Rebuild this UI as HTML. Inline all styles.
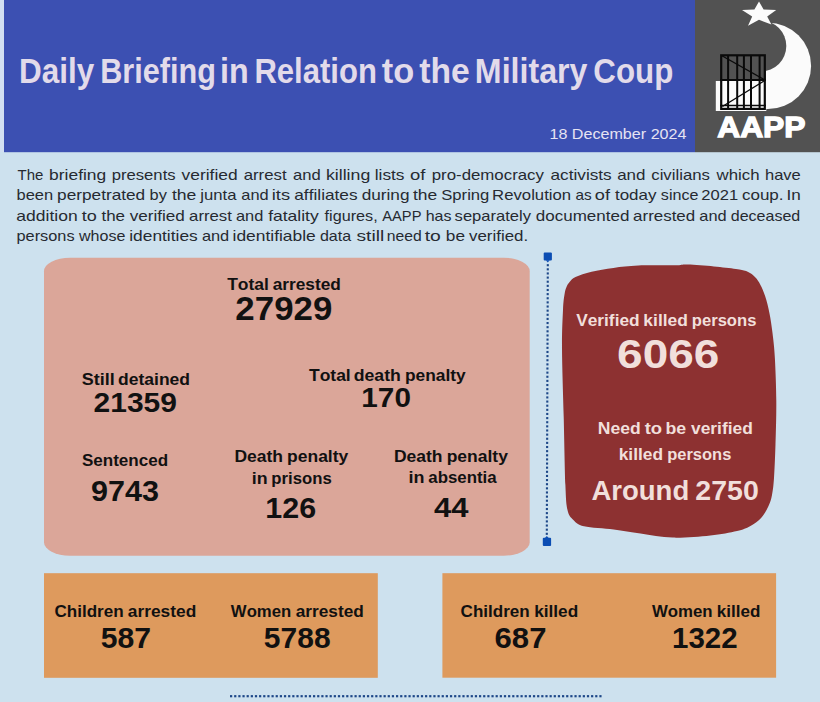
<!DOCTYPE html>
<html><head><meta charset="utf-8"><style>
html,body{margin:0;padding:0;}
body{width:820px;height:702px;overflow:hidden;background:#cde1ee;position:relative;font-family:"Liberation Sans",sans-serif;}
svg{position:absolute;left:0;top:0;}
text{font-family:"Liberation Sans",sans-serif;font-kerning:none;font-variant-ligatures:none;}
</style></head><body>
<svg width="820" height="702" viewBox="0 0 820 702">
<rect x="0" y="0" width="820" height="702" fill="#cde1ee"/>
<rect x="0" y="0" width="4" height="152" fill="#d2dff2"/>
<rect x="4" y="0" width="691" height="152.2" fill="#3c50b2"/>
<rect x="695" y="0" width="125" height="152.2" fill="#525252"/>
<!-- logo -->
<defs><mask id="cres"><rect x="765.5" y="0" width="60" height="152" fill="#fff"/><circle cx="760.9" cy="46" r="25.4" fill="#000"/></mask></defs>
<circle cx="767.9" cy="65.9" r="43.2" fill="#fbfbfb" mask="url(#cres)"/>
<polygon points="759,1.5 763.6,9.6 776.2,10 767.2,16.4 771.4,24.6 759,19.8 748,25.8 752.2,16.6 742,10 754.4,9.6" fill="#fbfbfb"/>
<rect x="720" y="54.5" width="46" height="26.5" fill="#525252"/>
<rect x="715.8" y="81" width="50.5" height="30" fill="#fbfbfb"/>
<g fill="none" stroke="#0a0a0a">
<rect x="721.2" y="55.3" width="43.6" height="53.6" stroke-width="2.2"/>
<line x1="728.1" y1="55" x2="728.1" y2="109" stroke-width="2"/><line x1="737.2" y1="55" x2="737.2" y2="109" stroke-width="2"/><line x1="743.9" y1="55" x2="743.9" y2="109" stroke-width="2"/><line x1="751.0" y1="55" x2="751.0" y2="109" stroke-width="2"/><line x1="759.6" y1="55" x2="759.6" y2="109" stroke-width="2"/>
<line x1="720" y1="80" x2="766" y2="80" stroke-width="2"/>
<line x1="720" y1="105.5" x2="766" y2="105.5" stroke-width="1.6"/>
<line x1="721.5" y1="55.5" x2="764" y2="79.5" stroke-width="1.4"/>
<line x1="722.4" y1="106.5" x2="764" y2="81" stroke-width="1.4"/>
</g>
<!-- salmon box -->
<rect x="44" y="257.7" width="485.7" height="298" rx="26" ry="13.5" fill="#dba699"/>
<!-- dotted separator -->
<g fill="#1d4788"><rect x="546.75" y="264.15" width="2.1" height="2.1"/><rect x="546.73" y="268.28" width="2.1" height="2.1"/><rect x="546.72" y="272.41" width="2.1" height="2.1"/><rect x="546.70" y="276.55" width="2.1" height="2.1"/><rect x="546.69" y="280.68" width="2.1" height="2.1"/><rect x="546.67" y="284.81" width="2.1" height="2.1"/><rect x="546.66" y="288.94" width="2.1" height="2.1"/><rect x="546.64" y="293.08" width="2.1" height="2.1"/><rect x="546.63" y="297.21" width="2.1" height="2.1"/><rect x="546.61" y="301.34" width="2.1" height="2.1"/><rect x="546.60" y="305.47" width="2.1" height="2.1"/><rect x="546.58" y="309.61" width="2.1" height="2.1"/><rect x="546.57" y="313.74" width="2.1" height="2.1"/><rect x="546.55" y="317.87" width="2.1" height="2.1"/><rect x="546.53" y="322.00" width="2.1" height="2.1"/><rect x="546.52" y="326.13" width="2.1" height="2.1"/><rect x="546.50" y="330.27" width="2.1" height="2.1"/><rect x="546.49" y="334.40" width="2.1" height="2.1"/><rect x="546.47" y="338.53" width="2.1" height="2.1"/><rect x="546.46" y="342.66" width="2.1" height="2.1"/><rect x="546.44" y="346.80" width="2.1" height="2.1"/><rect x="546.43" y="350.93" width="2.1" height="2.1"/><rect x="546.41" y="355.06" width="2.1" height="2.1"/><rect x="546.40" y="359.19" width="2.1" height="2.1"/><rect x="546.38" y="363.33" width="2.1" height="2.1"/><rect x="546.37" y="367.46" width="2.1" height="2.1"/><rect x="546.35" y="371.59" width="2.1" height="2.1"/><rect x="546.33" y="375.72" width="2.1" height="2.1"/><rect x="546.32" y="379.85" width="2.1" height="2.1"/><rect x="546.30" y="383.99" width="2.1" height="2.1"/><rect x="546.29" y="388.12" width="2.1" height="2.1"/><rect x="546.27" y="392.25" width="2.1" height="2.1"/><rect x="546.26" y="396.38" width="2.1" height="2.1"/><rect x="546.24" y="400.52" width="2.1" height="2.1"/><rect x="546.23" y="404.65" width="2.1" height="2.1"/><rect x="546.21" y="408.78" width="2.1" height="2.1"/><rect x="546.20" y="412.91" width="2.1" height="2.1"/><rect x="546.18" y="417.05" width="2.1" height="2.1"/><rect x="546.17" y="421.18" width="2.1" height="2.1"/><rect x="546.15" y="425.31" width="2.1" height="2.1"/><rect x="546.13" y="429.44" width="2.1" height="2.1"/><rect x="546.12" y="433.57" width="2.1" height="2.1"/><rect x="546.10" y="437.71" width="2.1" height="2.1"/><rect x="546.09" y="441.84" width="2.1" height="2.1"/><rect x="546.07" y="445.97" width="2.1" height="2.1"/><rect x="546.06" y="450.10" width="2.1" height="2.1"/><rect x="546.04" y="454.24" width="2.1" height="2.1"/><rect x="546.03" y="458.37" width="2.1" height="2.1"/><rect x="546.01" y="462.50" width="2.1" height="2.1"/><rect x="546.00" y="466.63" width="2.1" height="2.1"/><rect x="545.98" y="470.77" width="2.1" height="2.1"/><rect x="545.97" y="474.90" width="2.1" height="2.1"/><rect x="545.95" y="479.03" width="2.1" height="2.1"/><rect x="545.93" y="483.16" width="2.1" height="2.1"/><rect x="545.92" y="487.29" width="2.1" height="2.1"/><rect x="545.90" y="491.43" width="2.1" height="2.1"/><rect x="545.89" y="495.56" width="2.1" height="2.1"/><rect x="545.87" y="499.69" width="2.1" height="2.1"/><rect x="545.86" y="503.82" width="2.1" height="2.1"/><rect x="545.84" y="507.96" width="2.1" height="2.1"/><rect x="545.83" y="512.09" width="2.1" height="2.1"/><rect x="545.81" y="516.22" width="2.1" height="2.1"/><rect x="545.80" y="520.35" width="2.1" height="2.1"/><rect x="545.78" y="524.49" width="2.1" height="2.1"/><rect x="545.77" y="528.62" width="2.1" height="2.1"/><rect x="545.75" y="532.75" width="2.1" height="2.1"/></g>
<rect x="543.7" y="252.4" width="8.2" height="8" rx="1" fill="#0b4db3"/>
<rect x="542.8" y="537.7" width="8.3" height="8.2" rx="1" fill="#0b4db3"/>
<polygon points="545.9,260.2 549.7,260.2 547.8,262.4" fill="#0b4db3"/>
<polygon points="544.9,537.9 548.7,537.9 546.8,535.9" fill="#0b4db3"/>
<!-- red blob -->
<path d="M564.5,294.5 C565.1,290.7 565.6,289.1 566.5,287.0 C567.4,284.9 568.1,283.7 569.6,282.0 C571.1,280.3 571.8,278.7 575.5,277.0 C579.2,275.3 585.3,273.3 591.6,271.8 C597.9,270.3 605.7,268.9 613.5,267.9 C621.3,266.8 628.1,265.9 638.4,265.5 C648.6,265.1 666.8,265.5 675.0,265.3 C683.2,265.1 681.1,264.3 687.6,264.5 C694.1,264.7 705.9,265.7 713.9,266.4 C721.9,267.1 730.5,268.1 735.9,268.9 C741.3,269.7 743.2,270.0 746.1,271.1 C749.0,272.2 751.2,273.6 753.4,275.5 C755.6,277.4 757.3,279.4 759.3,282.8 C761.2,286.2 763.4,290.9 765.1,296.0 C766.8,301.1 768.3,307.3 769.5,313.5 C770.7,319.7 771.6,325.5 772.5,333.0 C773.4,340.5 774.3,347.1 774.9,358.4 C775.5,369.7 776.2,386.8 776.3,401.0 C776.4,415.2 775.9,430.9 775.5,443.7 C775.1,456.5 774.6,469.4 774.0,478.0 C773.4,486.6 772.9,490.3 772.0,495.0 C771.1,499.7 770.2,502.5 768.4,506.3 C766.6,510.1 764.4,514.4 761.3,517.7 C758.2,521.0 754.0,524.0 750.0,526.2 C746.0,528.4 743.6,529.4 737.0,530.9 C730.4,532.4 721.0,534.3 710.3,535.4 C699.6,536.5 684.3,537.9 672.7,537.6 C661.1,537.3 650.3,534.9 640.5,533.5 C630.7,532.1 623.1,530.7 613.7,529.5 C604.3,528.3 590.7,527.9 584.0,526.3 C577.3,524.7 576.1,522.7 573.4,520.0 C570.6,517.3 568.8,515.8 567.5,510.0 C566.2,504.2 566.0,500.5 565.4,485.0 C564.8,469.5 564.3,439.6 563.7,416.8 C563.1,394.0 562.1,365.8 562.0,348.0 C561.9,330.2 562.6,318.9 563.0,310.0 C563.4,301.1 563.9,298.3 564.5,294.5Z" fill="#8d3131"/>
<!-- orange boxes -->
<rect x="44" y="573.2" width="333.8" height="104.6" fill="#de9a5d"/>
<rect x="442.4" y="573.2" width="333.7" height="104.5" fill="#de9a5d"/>
<g fill="#1d4788"><rect x="230.00" y="695.1" width="2.2" height="2.2"/><rect x="234.15" y="695.1" width="2.2" height="2.2"/><rect x="238.30" y="695.1" width="2.2" height="2.2"/><rect x="242.45" y="695.1" width="2.2" height="2.2"/><rect x="246.60" y="695.1" width="2.2" height="2.2"/><rect x="250.75" y="695.1" width="2.2" height="2.2"/><rect x="254.90" y="695.1" width="2.2" height="2.2"/><rect x="259.05" y="695.1" width="2.2" height="2.2"/><rect x="263.20" y="695.1" width="2.2" height="2.2"/><rect x="267.35" y="695.1" width="2.2" height="2.2"/><rect x="271.50" y="695.1" width="2.2" height="2.2"/><rect x="275.65" y="695.1" width="2.2" height="2.2"/><rect x="279.80" y="695.1" width="2.2" height="2.2"/><rect x="283.95" y="695.1" width="2.2" height="2.2"/><rect x="288.10" y="695.1" width="2.2" height="2.2"/><rect x="292.25" y="695.1" width="2.2" height="2.2"/><rect x="296.40" y="695.1" width="2.2" height="2.2"/><rect x="300.55" y="695.1" width="2.2" height="2.2"/><rect x="304.70" y="695.1" width="2.2" height="2.2"/><rect x="308.85" y="695.1" width="2.2" height="2.2"/><rect x="313.00" y="695.1" width="2.2" height="2.2"/><rect x="317.15" y="695.1" width="2.2" height="2.2"/><rect x="321.30" y="695.1" width="2.2" height="2.2"/><rect x="325.45" y="695.1" width="2.2" height="2.2"/><rect x="329.60" y="695.1" width="2.2" height="2.2"/><rect x="333.75" y="695.1" width="2.2" height="2.2"/><rect x="337.90" y="695.1" width="2.2" height="2.2"/><rect x="342.05" y="695.1" width="2.2" height="2.2"/><rect x="346.20" y="695.1" width="2.2" height="2.2"/><rect x="350.35" y="695.1" width="2.2" height="2.2"/><rect x="354.50" y="695.1" width="2.2" height="2.2"/><rect x="358.65" y="695.1" width="2.2" height="2.2"/><rect x="362.80" y="695.1" width="2.2" height="2.2"/><rect x="366.95" y="695.1" width="2.2" height="2.2"/><rect x="371.10" y="695.1" width="2.2" height="2.2"/><rect x="375.25" y="695.1" width="2.2" height="2.2"/><rect x="379.40" y="695.1" width="2.2" height="2.2"/><rect x="383.55" y="695.1" width="2.2" height="2.2"/><rect x="387.70" y="695.1" width="2.2" height="2.2"/><rect x="391.85" y="695.1" width="2.2" height="2.2"/><rect x="396.00" y="695.1" width="2.2" height="2.2"/><rect x="400.15" y="695.1" width="2.2" height="2.2"/><rect x="404.30" y="695.1" width="2.2" height="2.2"/><rect x="408.45" y="695.1" width="2.2" height="2.2"/><rect x="412.60" y="695.1" width="2.2" height="2.2"/><rect x="416.75" y="695.1" width="2.2" height="2.2"/><rect x="420.90" y="695.1" width="2.2" height="2.2"/><rect x="425.05" y="695.1" width="2.2" height="2.2"/><rect x="429.20" y="695.1" width="2.2" height="2.2"/><rect x="433.35" y="695.1" width="2.2" height="2.2"/><rect x="437.50" y="695.1" width="2.2" height="2.2"/><rect x="441.65" y="695.1" width="2.2" height="2.2"/><rect x="445.80" y="695.1" width="2.2" height="2.2"/><rect x="449.95" y="695.1" width="2.2" height="2.2"/><rect x="454.10" y="695.1" width="2.2" height="2.2"/><rect x="458.25" y="695.1" width="2.2" height="2.2"/><rect x="462.40" y="695.1" width="2.2" height="2.2"/><rect x="466.55" y="695.1" width="2.2" height="2.2"/><rect x="470.70" y="695.1" width="2.2" height="2.2"/><rect x="474.85" y="695.1" width="2.2" height="2.2"/><rect x="479.00" y="695.1" width="2.2" height="2.2"/><rect x="483.15" y="695.1" width="2.2" height="2.2"/><rect x="487.30" y="695.1" width="2.2" height="2.2"/><rect x="491.45" y="695.1" width="2.2" height="2.2"/><rect x="495.60" y="695.1" width="2.2" height="2.2"/><rect x="499.75" y="695.1" width="2.2" height="2.2"/><rect x="503.90" y="695.1" width="2.2" height="2.2"/><rect x="508.05" y="695.1" width="2.2" height="2.2"/><rect x="512.20" y="695.1" width="2.2" height="2.2"/><rect x="516.35" y="695.1" width="2.2" height="2.2"/><rect x="520.50" y="695.1" width="2.2" height="2.2"/><rect x="524.65" y="695.1" width="2.2" height="2.2"/><rect x="528.80" y="695.1" width="2.2" height="2.2"/><rect x="532.95" y="695.1" width="2.2" height="2.2"/><rect x="537.10" y="695.1" width="2.2" height="2.2"/><rect x="541.25" y="695.1" width="2.2" height="2.2"/><rect x="545.40" y="695.1" width="2.2" height="2.2"/><rect x="549.55" y="695.1" width="2.2" height="2.2"/><rect x="553.70" y="695.1" width="2.2" height="2.2"/><rect x="557.85" y="695.1" width="2.2" height="2.2"/><rect x="562.00" y="695.1" width="2.2" height="2.2"/><rect x="566.15" y="695.1" width="2.2" height="2.2"/><rect x="570.30" y="695.1" width="2.2" height="2.2"/><rect x="574.45" y="695.1" width="2.2" height="2.2"/><rect x="578.60" y="695.1" width="2.2" height="2.2"/><rect x="582.75" y="695.1" width="2.2" height="2.2"/><rect x="586.90" y="695.1" width="2.2" height="2.2"/><rect x="591.05" y="695.1" width="2.2" height="2.2"/><rect x="595.20" y="695.1" width="2.2" height="2.2"/><rect x="599.35" y="695.1" width="2.2" height="2.2"/></g>
<!-- paragraph -->
<g>
<text x="17.56" y="179.60" font-size="15.55" font-weight="normal" fill="#262a31" textLength="25.80" lengthAdjust="spacingAndGlyphs">The</text>
<text x="49.08" y="179.60" font-size="15.55" font-weight="normal" fill="#262a31" textLength="57.15" lengthAdjust="spacingAndGlyphs">briefing</text>
<text x="111.73" y="179.60" font-size="15.55" font-weight="normal" fill="#262a31" textLength="63.88" lengthAdjust="spacingAndGlyphs">presents</text>
<text x="181.64" y="179.60" font-size="15.55" font-weight="normal" fill="#262a31" textLength="55.98" lengthAdjust="spacingAndGlyphs">verified</text>
<text x="243.69" y="179.60" font-size="15.55" font-weight="normal" fill="#262a31" textLength="42.94" lengthAdjust="spacingAndGlyphs">arrest</text>
<text x="293.09" y="179.60" font-size="15.55" font-weight="normal" fill="#262a31" textLength="27.78" lengthAdjust="spacingAndGlyphs">and</text>
<text x="325.91" y="179.60" font-size="15.55" font-weight="normal" fill="#262a31" textLength="44.34" lengthAdjust="spacingAndGlyphs">killing</text>
<text x="374.73" y="179.60" font-size="15.55" font-weight="normal" fill="#262a31" textLength="29.79" lengthAdjust="spacingAndGlyphs">lists</text>
<text x="410.13" y="179.60" font-size="15.55" font-weight="normal" fill="#262a31" textLength="15.35" lengthAdjust="spacingAndGlyphs">of</text>
<text x="431.72" y="179.60" font-size="15.55" font-weight="normal" fill="#262a31" textLength="112.22" lengthAdjust="spacingAndGlyphs">pro-democracy</text>
<text x="550.57" y="179.60" font-size="15.55" font-weight="normal" fill="#262a31" textLength="61.15" lengthAdjust="spacingAndGlyphs">activists</text>
<text x="617.18" y="179.60" font-size="15.55" font-weight="normal" fill="#262a31" textLength="28.31" lengthAdjust="spacingAndGlyphs">and</text>
<text x="651.29" y="179.60" font-size="15.55" font-weight="normal" fill="#262a31" textLength="58.62" lengthAdjust="spacingAndGlyphs">civilians</text>
<text x="716.62" y="179.60" font-size="15.55" font-weight="normal" fill="#262a31" textLength="42.97" lengthAdjust="spacingAndGlyphs">which</text>
<text x="764.96" y="179.60" font-size="15.55" font-weight="normal" fill="#262a31" textLength="35.78" lengthAdjust="spacingAndGlyphs">have</text>
<text x="16.54" y="200.30" font-size="15.55" font-weight="normal" fill="#262a31" textLength="36.63" lengthAdjust="spacingAndGlyphs">been</text>
<text x="57.09" y="200.30" font-size="15.55" font-weight="normal" fill="#262a31" textLength="88.12" lengthAdjust="spacingAndGlyphs">perpetrated</text>
<text x="149.55" y="200.30" font-size="15.55" font-weight="normal" fill="#262a31" textLength="17.29" lengthAdjust="spacingAndGlyphs">by</text>
<text x="171.93" y="200.30" font-size="15.55" font-weight="normal" fill="#262a31" textLength="24.45" lengthAdjust="spacingAndGlyphs">the</text>
<text x="200.31" y="200.30" font-size="15.55" font-weight="normal" fill="#262a31" textLength="36.19" lengthAdjust="spacingAndGlyphs">junta</text>
<text x="241.30" y="200.30" font-size="15.55" font-weight="normal" fill="#262a31" textLength="27.35" lengthAdjust="spacingAndGlyphs">and</text>
<text x="271.78" y="200.30" font-size="15.55" font-weight="normal" fill="#262a31" textLength="18.28" lengthAdjust="spacingAndGlyphs">its</text>
<text x="294.27" y="200.30" font-size="15.55" font-weight="normal" fill="#262a31" textLength="63.36" lengthAdjust="spacingAndGlyphs">affiliates</text>
<text x="361.68" y="200.30" font-size="15.55" font-weight="normal" fill="#262a31" textLength="47.83" lengthAdjust="spacingAndGlyphs">during</text>
<text x="413.04" y="200.30" font-size="15.55" font-weight="normal" fill="#262a31" textLength="24.24" lengthAdjust="spacingAndGlyphs">the</text>
<text x="441.24" y="200.30" font-size="15.55" font-weight="normal" fill="#262a31" textLength="48.13" lengthAdjust="spacingAndGlyphs">Spring</text>
<text x="492.13" y="200.30" font-size="15.55" font-weight="normal" fill="#262a31" textLength="78.96" lengthAdjust="spacingAndGlyphs">Revolution</text>
<text x="575.45" y="200.30" font-size="15.55" font-weight="normal" fill="#262a31" textLength="16.21" lengthAdjust="spacingAndGlyphs">as</text>
<text x="594.84" y="200.30" font-size="15.55" font-weight="normal" fill="#262a31" textLength="15.14" lengthAdjust="spacingAndGlyphs">of</text>
<text x="614.94" y="200.30" font-size="15.55" font-weight="normal" fill="#262a31" textLength="41.49" lengthAdjust="spacingAndGlyphs">today</text>
<text x="660.85" y="200.30" font-size="15.55" font-weight="normal" fill="#262a31" textLength="37.56" lengthAdjust="spacingAndGlyphs">since</text>
<text x="701.37" y="200.30" font-size="15.55" font-weight="normal" fill="#262a31" textLength="36.84" lengthAdjust="spacingAndGlyphs">2021</text>
<text x="741.98" y="200.30" font-size="15.55" font-weight="normal" fill="#262a31" textLength="41.57" lengthAdjust="spacingAndGlyphs">coup.</text>
<text x="786.42" y="200.30" font-size="15.55" font-weight="normal" fill="#262a31" textLength="14.29" lengthAdjust="spacingAndGlyphs">In</text>
<text x="16.36" y="220.70" font-size="15.55" font-weight="normal" fill="#262a31" textLength="61.28" lengthAdjust="spacingAndGlyphs">addition</text>
<text x="81.73" y="220.70" font-size="15.55" font-weight="normal" fill="#262a31" textLength="15.03" lengthAdjust="spacingAndGlyphs">to</text>
<text x="101.44" y="220.70" font-size="15.55" font-weight="normal" fill="#262a31" textLength="23.61" lengthAdjust="spacingAndGlyphs">the</text>
<text x="129.74" y="220.70" font-size="15.55" font-weight="normal" fill="#262a31" textLength="55.16" lengthAdjust="spacingAndGlyphs">verified</text>
<text x="189.09" y="220.70" font-size="15.55" font-weight="normal" fill="#262a31" textLength="42.83" lengthAdjust="spacingAndGlyphs">arrest</text>
<text x="236.00" y="220.70" font-size="15.55" font-weight="normal" fill="#262a31" textLength="27.35" lengthAdjust="spacingAndGlyphs">and</text>
<text x="268.15" y="220.70" font-size="15.55" font-weight="normal" fill="#262a31" textLength="50.58" lengthAdjust="spacingAndGlyphs">fatality</text>
<text x="324.57" y="220.70" font-size="15.55" font-weight="normal" fill="#262a31" textLength="53.08" lengthAdjust="spacingAndGlyphs">figures,</text>
<text x="382.27" y="220.70" font-size="15.55" font-weight="normal" fill="#262a31" textLength="39.20" lengthAdjust="spacingAndGlyphs">AAPP</text>
<text x="425.69" y="220.70" font-size="15.55" font-weight="normal" fill="#262a31" textLength="25.79" lengthAdjust="spacingAndGlyphs">has</text>
<text x="454.64" y="220.70" font-size="15.55" font-weight="normal" fill="#262a31" textLength="76.29" lengthAdjust="spacingAndGlyphs">separately</text>
<text x="535.89" y="220.70" font-size="15.55" font-weight="normal" fill="#262a31" textLength="93.51" lengthAdjust="spacingAndGlyphs">documented</text>
<text x="633.08" y="220.70" font-size="15.55" font-weight="normal" fill="#262a31" textLength="62.11" lengthAdjust="spacingAndGlyphs">arrested</text>
<text x="699.30" y="220.70" font-size="15.55" font-weight="normal" fill="#262a31" textLength="27.35" lengthAdjust="spacingAndGlyphs">and</text>
<text x="730.73" y="220.70" font-size="15.55" font-weight="normal" fill="#262a31" textLength="69.51" lengthAdjust="spacingAndGlyphs">deceased</text>
<text x="16.55" y="241.10" font-size="15.55" font-weight="normal" fill="#262a31" textLength="58.04" lengthAdjust="spacingAndGlyphs">persons</text>
<text x="79.02" y="241.10" font-size="15.55" font-weight="normal" fill="#262a31" textLength="46.39" lengthAdjust="spacingAndGlyphs">whose</text>
<text x="129.24" y="241.10" font-size="15.55" font-weight="normal" fill="#262a31" textLength="68.49" lengthAdjust="spacingAndGlyphs">identities</text>
<text x="201.90" y="241.10" font-size="15.55" font-weight="normal" fill="#262a31" textLength="27.35" lengthAdjust="spacingAndGlyphs">and</text>
<text x="232.54" y="241.10" font-size="15.55" font-weight="normal" fill="#262a31" textLength="83.24" lengthAdjust="spacingAndGlyphs">identifiable</text>
<text x="319.93" y="241.10" font-size="15.55" font-weight="normal" fill="#262a31" textLength="31.17" lengthAdjust="spacingAndGlyphs">data</text>
<text x="356.47" y="241.10" font-size="15.55" font-weight="normal" fill="#262a31" textLength="27.72" lengthAdjust="spacingAndGlyphs">still</text>
<text x="386.76" y="241.10" font-size="15.55" font-weight="normal" fill="#262a31" textLength="34.96" lengthAdjust="spacingAndGlyphs">need</text>
<text x="424.71" y="241.10" font-size="15.55" font-weight="normal" fill="#262a31" textLength="16.10" lengthAdjust="spacingAndGlyphs">to</text>
<text x="445.89" y="241.10" font-size="15.55" font-weight="normal" fill="#262a31" textLength="19.18" lengthAdjust="spacingAndGlyphs">be</text>
<text x="469.04" y="241.10" font-size="15.55" font-weight="normal" fill="#262a31" textLength="59.10" lengthAdjust="spacingAndGlyphs">verified.</text>
</g>
<text x="235.39" y="319.60" font-size="33.51" font-weight="bold" fill="#111111" textLength="96.90" lengthAdjust="spacingAndGlyphs">27929</text>
<text x="93.56" y="411.50" font-size="28.36" font-weight="bold" fill="#111111" textLength="83.45" lengthAdjust="spacingAndGlyphs">21359</text>
<text x="361.33" y="407.20" font-size="27.35" font-weight="bold" fill="#111111" textLength="49.59" lengthAdjust="spacingAndGlyphs">170</text>
<text x="91.14" y="500.80" font-size="28.79" font-weight="bold" fill="#111111" textLength="67.96" lengthAdjust="spacingAndGlyphs">9743</text>
<text x="265.38" y="518.20" font-size="28.93" font-weight="bold" fill="#111111" textLength="50.82" lengthAdjust="spacingAndGlyphs">126</text>
<text x="434.03" y="517.20" font-size="28.34" font-weight="bold" fill="#111111" textLength="34.43" lengthAdjust="spacingAndGlyphs">44</text>
<text x="617.12" y="367.90" font-size="41.25" font-weight="bold" fill="#f1dfdb" textLength="102.14" lengthAdjust="spacingAndGlyphs">6066</text>
<text x="100.67" y="648.00" font-size="28.79" font-weight="bold" fill="#111111" textLength="50.35" lengthAdjust="spacingAndGlyphs">587</text>
<text x="263.88" y="648.00" font-size="28.64" font-weight="bold" fill="#111111" textLength="66.75" lengthAdjust="spacingAndGlyphs">5788</text>
<text x="494.56" y="648.00" font-size="28.64" font-weight="bold" fill="#111111" textLength="51.91" lengthAdjust="spacingAndGlyphs">687</text>
<text x="672.04" y="648.00" font-size="28.64" font-weight="bold" fill="#111111" textLength="65.64" lengthAdjust="spacingAndGlyphs">1322</text>
<text x="549.47" y="139.00" font-size="14.97" font-weight="normal" fill="#e6e3f2" textLength="137.00" lengthAdjust="spacingAndGlyphs">18 December 2024</text>
<text x="717.16" y="137.15" font-size="28.78" font-weight="bold" fill="#ffffff" textLength="88.38" lengthAdjust="spacingAndGlyphs" stroke="#ffffff" stroke-width="1.3" stroke-linejoin="miter">AAPP</text>
<text x="227.20" y="289.70" font-size="17.01" font-weight="bold" fill="#111111" textLength="41.73" lengthAdjust="spacingAndGlyphs">Total</text>
<text x="272.69" y="289.70" font-size="17.01" font-weight="bold" fill="#111111" textLength="68.14" lengthAdjust="spacingAndGlyphs">arrested</text>
<text x="81.88" y="385.20" font-size="16.61" font-weight="bold" fill="#111111" textLength="32.99" lengthAdjust="spacingAndGlyphs">Still</text>
<text x="118.08" y="385.20" font-size="16.61" font-weight="bold" fill="#111111" textLength="71.97" lengthAdjust="spacingAndGlyphs">detained</text>
<text x="309.00" y="381.20" font-size="16.28" font-weight="bold" fill="#111111" textLength="41.73" lengthAdjust="spacingAndGlyphs">Total</text>
<text x="353.67" y="381.20" font-size="16.28" font-weight="bold" fill="#111111" textLength="47.22" lengthAdjust="spacingAndGlyphs">death</text>
<text x="404.96" y="381.20" font-size="16.28" font-weight="bold" fill="#111111" textLength="60.74" lengthAdjust="spacingAndGlyphs">penalty</text>
<text x="81.91" y="466.40" font-size="16.61" font-weight="bold" fill="#111111" textLength="86.21" lengthAdjust="spacingAndGlyphs">Sentenced</text>
<text x="234.43" y="462.40" font-size="16.42" font-weight="bold" fill="#111111" textLength="48.66" lengthAdjust="spacingAndGlyphs">Death</text>
<text x="287.05" y="462.40" font-size="16.42" font-weight="bold" fill="#111111" textLength="61.25" lengthAdjust="spacingAndGlyphs">penalty</text>
<text x="251.85" y="483.70" font-size="16.42" font-weight="bold" fill="#111111" textLength="15.85" lengthAdjust="spacingAndGlyphs">in</text>
<text x="271.30" y="483.70" font-size="16.42" font-weight="bold" fill="#111111" textLength="60.39" lengthAdjust="spacingAndGlyphs">prisons</text>
<text x="393.93" y="461.60" font-size="15.99" font-weight="bold" fill="#111111" textLength="48.66" lengthAdjust="spacingAndGlyphs">Death</text>
<text x="446.65" y="461.60" font-size="15.99" font-weight="bold" fill="#111111" textLength="61.25" lengthAdjust="spacingAndGlyphs">penalty</text>
<text x="408.55" y="482.80" font-size="15.99" font-weight="bold" fill="#111111" textLength="15.97" lengthAdjust="spacingAndGlyphs">in</text>
<text x="428.31" y="482.80" font-size="15.99" font-weight="bold" fill="#111111" textLength="68.39" lengthAdjust="spacingAndGlyphs">absentia</text>
<text x="576.18" y="325.80" font-size="16.13" font-weight="bold" fill="#f1dfdb" textLength="63.46" lengthAdjust="spacingAndGlyphs">Verified</text>
<text x="643.38" y="325.80" font-size="16.13" font-weight="bold" fill="#f1dfdb" textLength="44.57" lengthAdjust="spacingAndGlyphs">killed</text>
<text x="691.81" y="325.80" font-size="16.13" font-weight="bold" fill="#f1dfdb" textLength="64.58" lengthAdjust="spacingAndGlyphs">persons</text>
<text x="597.83" y="433.90" font-size="15.99" font-weight="bold" fill="#f1dfdb" textLength="42.93" lengthAdjust="spacingAndGlyphs">Need</text>
<text x="644.67" y="433.90" font-size="15.99" font-weight="bold" fill="#f1dfdb" textLength="17.45" lengthAdjust="spacingAndGlyphs">to</text>
<text x="665.53" y="433.90" font-size="15.99" font-weight="bold" fill="#f1dfdb" textLength="20.67" lengthAdjust="spacingAndGlyphs">be</text>
<text x="691.03" y="433.90" font-size="15.99" font-weight="bold" fill="#f1dfdb" textLength="61.81" lengthAdjust="spacingAndGlyphs">verified</text>
<text x="618.69" y="459.60" font-size="15.99" font-weight="bold" fill="#f1dfdb" textLength="44.35" lengthAdjust="spacingAndGlyphs">killed</text>
<text x="667.21" y="459.60" font-size="15.99" font-weight="bold" fill="#f1dfdb" textLength="64.16" lengthAdjust="spacingAndGlyphs">persons</text>
<text x="591.41" y="500.00" font-size="27.47" font-weight="bold" fill="#f1dfdb" textLength="97.80" lengthAdjust="spacingAndGlyphs">Around</text>
<text x="695.31" y="500.00" font-size="27.47" font-weight="bold" fill="#f1dfdb" textLength="63.46" lengthAdjust="spacingAndGlyphs">2750</text>
<text x="54.40" y="616.90" font-size="16.18" font-weight="bold" fill="#111111" textLength="69.26" lengthAdjust="spacingAndGlyphs">Children</text>
<text x="127.79" y="616.90" font-size="16.18" font-weight="bold" fill="#111111" textLength="68.45" lengthAdjust="spacingAndGlyphs">arrested</text>
<text x="230.88" y="616.90" font-size="16.42" font-weight="bold" fill="#111111" textLength="60.35" lengthAdjust="spacingAndGlyphs">Women</text>
<text x="295.79" y="616.90" font-size="16.42" font-weight="bold" fill="#111111" textLength="68.04" lengthAdjust="spacingAndGlyphs">arrested</text>
<text x="460.60" y="616.80" font-size="15.75" font-weight="bold" fill="#111111" textLength="69.16" lengthAdjust="spacingAndGlyphs">Children</text>
<text x="534.20" y="616.80" font-size="15.75" font-weight="bold" fill="#111111" textLength="44.04" lengthAdjust="spacingAndGlyphs">killed</text>
<text x="651.98" y="616.70" font-size="16.13" font-weight="bold" fill="#111111" textLength="60.66" lengthAdjust="spacingAndGlyphs">Women</text>
<text x="716.71" y="616.70" font-size="16.13" font-weight="bold" fill="#111111" textLength="43.62" lengthAdjust="spacingAndGlyphs">killed</text>
<text x="19.10" y="82.50" font-size="34.16" font-weight="bold" fill="#e2dbea" textLength="75.17" lengthAdjust="spacingAndGlyphs">Daily</text>
<text x="100.15" y="82.50" font-size="34.16" font-weight="bold" fill="#e2dbea" textLength="115.70" lengthAdjust="spacingAndGlyphs">Briefing</text>
<text x="220.05" y="82.50" font-size="34.16" font-weight="bold" fill="#e2dbea" textLength="28.65" lengthAdjust="spacingAndGlyphs">in</text>
<text x="254.42" y="82.50" font-size="34.16" font-weight="bold" fill="#e2dbea" textLength="122.50" lengthAdjust="spacingAndGlyphs">Relation</text>
<text x="381.88" y="82.50" font-size="34.16" font-weight="bold" fill="#e2dbea" textLength="32.46" lengthAdjust="spacingAndGlyphs">to</text>
<text x="419.19" y="82.50" font-size="34.16" font-weight="bold" fill="#e2dbea" textLength="50.46" lengthAdjust="spacingAndGlyphs">the</text>
<text x="474.85" y="82.50" font-size="34.16" font-weight="bold" fill="#e2dbea" textLength="112.62" lengthAdjust="spacingAndGlyphs">Military</text>
<text x="593.32" y="82.50" font-size="34.16" font-weight="bold" fill="#e2dbea" textLength="79.97" lengthAdjust="spacingAndGlyphs">Coup</text>
</svg>
</body></html>
